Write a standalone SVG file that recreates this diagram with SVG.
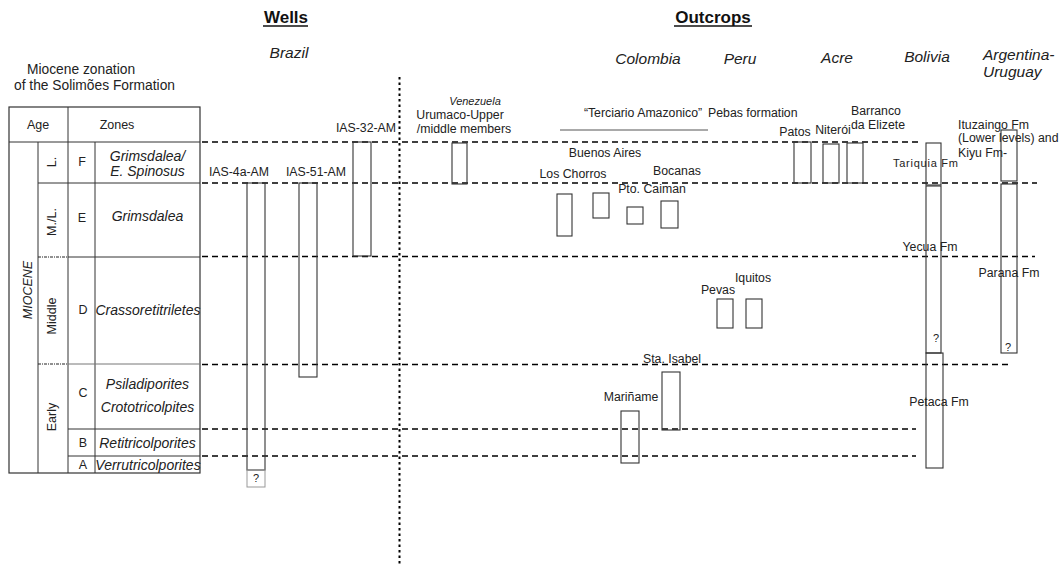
<svg xmlns="http://www.w3.org/2000/svg" width="1060" height="566" viewBox="0 0 1060 566">
<style>
text{font-family:"Liberation Sans",Arial,sans-serif;fill:#222}
.h{font-size:17px;font-weight:bold;fill:#111}
.c{font-size:15.5px;font-style:italic}
.t{font-size:13.8px}
.hd{font-size:12.5px}
.z{font-size:14px;font-style:italic}
.zl{font-size:12.5px}
.ag{font-size:12.5px}
.lb{font-size:12.3px}
.sm{font-size:11px}
.m{text-anchor:middle}
.tb{fill:none;stroke:#333;stroke-width:1.2}
.tl{stroke:#333;stroke-width:1}
.tg{stroke:#777;stroke-width:1}
.dd{stroke:#222;stroke-width:1;stroke-dasharray:3 1 1 1}
.gd{fill:none;stroke:#000;stroke-width:1.6;stroke-dasharray:6 4}
.vd{stroke:#000;stroke-width:2;stroke-dasharray:2.5 3}
.bx{fill:none;stroke:#333;stroke-width:1.1}
.bq{fill:none;stroke:#999;stroke-width:1}
</style>

<g id="titles">
<text class="h m" x="286" y="23">Wells</text>
<line x1="263" y1="26" x2="308" y2="26" stroke="#111" stroke-width="1.5"/>
<text class="h m" x="713" y="23">Outcrops</text>
<line x1="674" y1="26" x2="752" y2="26" stroke="#111" stroke-width="1.5"/>
<text class="c m" x="289" y="58">Brazil</text>
<text class="c m" x="648" y="64">Colombia</text>
<text class="c m" x="740" y="64">Peru</text>
<text class="c m" x="837" y="63">Acre</text>
<text class="c m" x="927" y="62">Bolivia</text>
<text class="c" x="983" y="60">Argentina-</text>
<text class="c" x="983" y="77">Uruguay</text>
<text class="t m" x="81" y="74">Miocene zonation</text>
<text class="t m" x="94.5" y="90">of the Solimões Formation</text>
</g>

<g id="zonation-table">
<rect class="tb" x="9" y="107" width="191" height="366"/>
<line class="tl" x1="9" y1="142" x2="200" y2="142"/>
<line class="tl" x1="68" y1="107" x2="68" y2="473"/>
<line class="tl" x1="38" y1="142" x2="38" y2="473"/>
<line class="tl" x1="95" y1="142" x2="95" y2="473"/>
<line class="tl" x1="38" y1="183" x2="200" y2="183"/>
<line class="tl" x1="68" y1="257" x2="200" y2="257"/>
<line class="dd" x1="38" y1="257" x2="68" y2="257"/>
<line class="tg" x1="68" y1="364" x2="200" y2="364"/>
<line class="dd" x1="38" y1="364" x2="68" y2="364"/>
<line class="tl" x1="68" y1="429" x2="200" y2="429"/>
<line class="tl" x1="68" y1="456" x2="200" y2="456"/>
<text class="hd m" x="38" y="129">Age</text>
<text class="hd m" x="117" y="129">Zones</text>
<text class="ag m" style="font-style:italic" transform="translate(32,290) rotate(-90)">MIOCENE</text>
<text class="ag m" transform="translate(56,162) rotate(-90)">L.</text>
<text class="ag m" transform="translate(56,222) rotate(-90)">M./L.</text>
<text class="ag m" transform="translate(56,316) rotate(-90)">Middle</text>
<text class="ag m" transform="translate(56,417) rotate(-90)">Early</text>
<text class="zl m" x="82" y="166">F</text>
<text class="zl m" x="82" y="222">E</text>
<text class="zl m" x="83" y="314">D</text>
<text class="zl m" x="83" y="397">C</text>
<text class="zl m" x="83" y="447">B</text>
<text class="zl m" x="83" y="469">A</text>
<text class="z m" x="147.5" y="161">Grimsdalea/</text>
<text class="z m" x="147.5" y="176">E. Spinosus</text>
<text class="z m" x="147.5" y="221">Grimsdalea</text>
<text class="z m" x="148" y="315">Crassoretitriletes</text>
<text class="z m" x="147.5" y="389">Psiladiporites</text>
<text class="z m" x="147.5" y="412">Crototricolpites</text>
<text class="z m" x="147.5" y="448">Retitricolporites</text>
<text class="z m" x="148" y="470">Verrutricolporites</text>
</g>

<g id="guides">
<line class="gd" x1="202" y1="142" x2="918" y2="142"/>
<line class="gd" x1="202" y1="183" x2="1037" y2="183"/>
<line class="gd" x1="202" y1="256.5" x2="1035" y2="256.5"/>
<line class="gd" x1="202" y1="364.5" x2="1011" y2="364.5"/>
<line class="gd" x1="202" y1="429" x2="916" y2="429"/>
<line class="gd" x1="202" y1="456" x2="916" y2="456"/>
<line class="vd" x1="399.5" y1="77" x2="399.5" y2="566"/>
</g>

<g id="well-IAS-4a-AM">
<rect class="bx" x="247" y="183" width="18" height="287"/>
<rect class="bq" x="247" y="470" width="18" height="17"/>
<text class="sm m" x="256" y="482">?</text>
<text class="lb m" x="239" y="176">IAS-4a-AM</text>
</g>
<g id="well-IAS-51-AM">
<rect class="bx" x="299" y="183" width="18" height="194"/>
<text class="lb m" x="316" y="176">IAS-51-AM</text>
</g>
<g id="well-IAS-32-AM">
<rect class="bx" x="353" y="142" width="18" height="114"/>
<text class="lb m" x="366" y="132">IAS-32-AM</text>
</g>

<g id="venezuela-urumaco">
<text class="m" style="font-size:11px;font-style:italic" x="475" y="105">Venezuela</text>
<text class="lb m" x="460" y="119">Urumaco-Upper</text>
<text class="lb m" x="464" y="133">/middle members</text>
<rect class="bx" x="452" y="143" width="15" height="41"/>
</g>

<g id="terciario-amazonico">
<text class="lb m" x="643" y="117">“Terciario Amazonico”</text>
<line x1="560" y1="130" x2="708" y2="130" stroke="#555" stroke-width="1"/>
</g>
<g id="pebas-formation">
<text class="lb" x="708" y="117">Pebas formation</text>
</g>

<g id="los-chorros">
<text class="lb m" x="573" y="178">Los Chorros</text>
<rect class="bx" x="557" y="194" width="15" height="42"/>
</g>
<g id="buenos-aires">
<text class="lb m" x="605" y="157">Buenos Aires</text>
<rect class="bx" x="593" y="193" width="16" height="25"/>
</g>
<g id="pto-caiman">
<text class="lb m" x="652" y="193">Pto. Caiman</text>
<rect class="bx" x="627" y="207" width="16" height="17"/>
</g>
<g id="bocanas">
<text class="lb m" x="677" y="175">Bocanas</text>
<rect class="bx" x="661" y="201" width="17" height="27"/>
</g>

<g id="pevas">
<text class="lb m" x="718" y="294">Pevas</text>
<rect class="bx" x="717" y="299" width="16" height="29"/>
</g>
<g id="iquitos">
<text class="lb m" x="753" y="282">Iquitos</text>
<rect class="bx" x="746" y="299" width="16" height="29"/>
</g>
<g id="sta-isabel">
<text class="lb m" x="672" y="363">Sta. Isabel</text>
<rect class="bx" x="662" y="372" width="18" height="58"/>
</g>
<g id="mariname">
<text class="lb m" x="631" y="401">Mariñame</text>
<rect class="bx" x="621" y="411" width="18" height="52"/>
</g>

<g id="patos">
<text class="lb m" x="795" y="136">Patos</text>
<rect class="bx" x="794" y="142" width="17" height="41"/>
</g>
<g id="niteroi">
<text class="lb m" x="833" y="134">Niterói</text>
<rect class="bx" x="823" y="144" width="16" height="39"/>
</g>
<g id="barranco-da-elizete">
<text class="lb m" x="876" y="115">Barranco</text>
<text class="lb m" x="878" y="129">da Elizete</text>
<rect class="bx" x="847" y="143" width="16" height="40"/>
</g>

<g id="tariquia-fm">
<rect class="bx" x="926" y="143" width="15" height="42"/>
<text class="sm" x="893" y="167" textLength="65" lengthAdjust="spacing">Tariquia Fm</text>
</g>
<g id="yecua-fm">
<rect class="bx" x="926" y="186" width="15" height="167"/>
<text class="lb m" x="930" y="251">Yecua Fm</text>
<text class="sm m" x="936" y="342">?</text>
</g>
<g id="petaca-fm">
<rect class="bx" x="926" y="353" width="17" height="115"/>
<text class="lb m" x="939" y="406">Petaca Fm</text>
</g>

<g id="ituzaingo-kiyu-fm">
<text class="lb" x="958" y="129">Ituzaingo Fm</text>
<text class="lb" x="958" y="142">(Lower levels) and</text>
<text class="lb" x="958" y="157">Kiyu Fm-</text>
<rect class="bx" x="1001" y="130" width="16" height="51"/>
</g>
<g id="parana-fm">
<rect class="bx" x="1001" y="184" width="16" height="169"/>
<text class="lb m" x="1009" y="277">Parana Fm</text>
<text class="sm m" x="1008" y="351">?</text>
</g>
</svg>
